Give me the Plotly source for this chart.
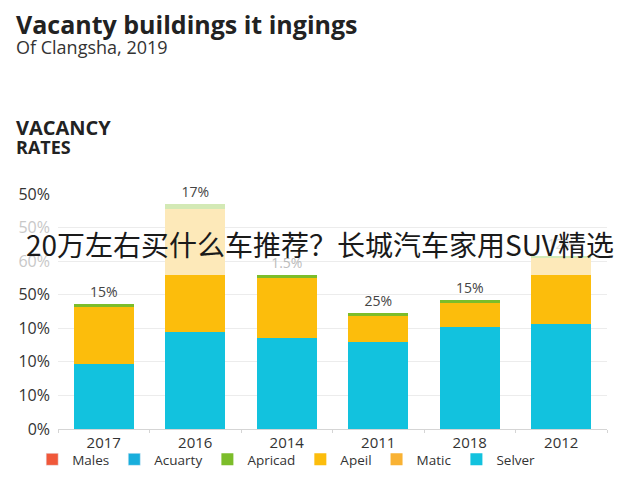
import plotly.graph_objects as go

years = ["2017", "2016", "2014", "2011", "2018", "2012"]
selver = [1.93, 2.89, 2.71, 2.59, 3.04, 3.13]
apeil = [1.70, 1.71, 1.79, 0.79, 0.71, 1.47]
matic = [0, 1.94, 0, 0, 0, 0.50]
apricad = [0.09, 0.15, 0.10, 0.07, 0.08, 0.06]
top_labels = ["15%", "17%", "1.5%", "25%", "15%", "12%"]
label_colors = ["#444", "#444", "#bbb", "#444", "#444", "#ddd"]

tick_vals = [0, 1, 2, 3, 4, 5, 6, 7]
tick_text = ["0%", "10%", "10%", "10%", "50%",
             "<span style='color:#c8c8c8'>60%</span>",
             "<span style='color:#c8c8c8'>50%</span>", "50%"]

fig = go.Figure()
fig.add_trace(go.Bar(x=years, y=selver, name="Selver", legendrank=6,
                     marker=dict(color="#12c2de", line_width=0)))
fig.add_trace(go.Bar(x=years, y=apeil, name="Apeil", legendrank=4,
                     marker=dict(color="#fcbd0c", line_width=0)))
fig.add_trace(go.Bar(x=years, y=matic, name="Matic", legendrank=5,
                     marker=dict(color=["#f9b233", "#fde9b9", "#fde9b9", "#fde9b9", "#fde9b9", "#fde9b9"],
                                 line_width=0)))
fig.add_trace(go.Bar(x=years, y=apricad, name="Apricad", legendrank=3,
                     marker=dict(color=["#7cbd2a", "#d3e9b5", "#7cbd2a", "#7cbd2a", "#7cbd2a", "#d3e9b5"],
                                 line_width=0),
                     text=top_labels, textposition="outside",
                     textfont=dict(color=label_colors, size=14, family="Open Sans"),
                     cliponaxis=False))
fig.add_trace(go.Bar(x=years, y=[None] * 6, name="Males", legendrank=1,
                     marker=dict(color="#f0583a")))
fig.add_trace(go.Bar(x=years, y=[None] * 6, name="Acuarty", legendrank=2,
                     marker=dict(color="#18aedc")))

fig.update_layout(
    barmode="stack",
    bargap=0.34,
    width=640,
    height=480,
    margin=dict(l=58, r=33, t=194, b=51, autoexpand=False),
    plot_bgcolor="white",
    paper_bgcolor="white",
    font=dict(family="Open Sans", color="#333", size=13),
    showlegend=True,
    legend=dict(orientation="h", x=-0.047, xanchor="left", y=-0.13, yanchor="middle",
                traceorder="normal", font=dict(size=13.5, color="#333"),
                bgcolor="rgba(0,0,0,0)", itemwidth=30, tracegroupgap=0),
)
fig.update_yaxes(range=[0, 7], tickvals=tick_vals, ticktext=tick_text,
                 showgrid=True, gridcolor="#ececec", zeroline=False,
                 tickfont=dict(size=16, color="#333"), ticklabelstandoff=7)
fig.update_xaxes(showline=True, linecolor="#d5d5d5", ticks="outside",
                 tickson="boundaries", tickcolor="#d5d5d5", ticklen=3,
                 tickfont=dict(size=15, color="#333"))

fig.add_annotation(text="<b>Vacanty buildings it ingings</b>", xref="paper", yref="paper",
                   x=-0.08, y=1.723, xanchor="left", yanchor="middle", showarrow=False,
                   font=dict(size=25, color="#222"))
fig.add_annotation(text="Of Clangsha, 2019", xref="paper", yref="paper",
                   x=-0.08, y=1.626, xanchor="left", yanchor="middle", showarrow=False,
                   font=dict(size=18, color="#333"))
fig.add_annotation(text="<b>VACANCY</b>", xref="paper", yref="paper",
                   x=-0.08, y=1.281, xanchor="left", yanchor="middle", showarrow=False,
                   font=dict(size=20, color="#222"))
fig.add_annotation(text="<b>RATES</b>", xref="paper", yref="paper",
                   x=-0.08, y=1.2, xanchor="left", yanchor="middle", showarrow=False,
                   font=dict(size=18, color="#222"))
fig.add_annotation(text="20万左右买什么车推荐？长城汽车家用SUV精选", xref="paper", yref="paper",
                   x=0.477, y=0.787, xanchor="center", yanchor="middle", showarrow=False,
                   font=dict(size=28, color="#1a1a1a", family="Noto Sans CJK SC"))

fig.write_html("out.html", config={"displayModeBar": False},
               post_script="document.body.style.margin = '0';")
